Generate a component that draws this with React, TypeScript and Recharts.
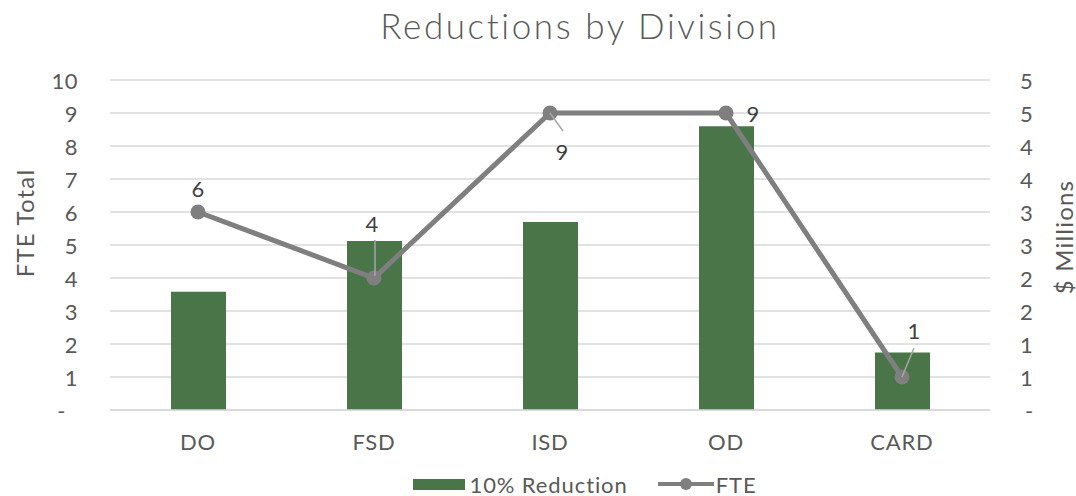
import React from 'react';
import { ComposedChart, Bar, Line, XAxis, YAxis, CartesianGrid, Legend } from 'recharts';

const divisions = ['DO', 'FSD', 'ISD', 'OD', 'CARD'];
const reductionMillions = [1.79, 2.56, 2.85, 4.3, 0.87];
const fteTotals = [6, 4, 9, 9, 1];
const fteTicks = [0, 1, 2, 3, 4, 5, 6, 7, 8, 9, 10];
const millionTicks = [0, 0.5, 1, 1.5, 2, 2.5, 3, 3.5, 4, 4.5, 5];

const BAR_COLOR = '#4a7548';
const LINE_COLOR = '#7f7f7f';
const TEXT_COLOR = '#595959';
const LABEL_COLOR = '#404040';
const GRID_COLOR = '#d9d9d9';
const FONT = 'Lato, "Noto Sans", sans-serif';

// where each FTE data label sits relative to its point (Excel had them dragged around)
const labelPlacement: Record<string, { dx: number; dy: number; leader?: [number, number, number, number] }> = {
    DO: { dx: 0, dy: -24 },
    FSD: { dx: -2, dy: -55, leader: [1, -38, 1, -2] },
    ISD: { dx: 12, dy: 38, leader: [0, 0, 13, 18] },
    OD: { dx: 27, dy: 0 },
    CARD: { dx: 12, dy: -47, leader: [0, 0, 12, -29] },
};

const chartData = divisions.map((division, i) => ({
    division,
    reduction: reductionMillions[i],
    fte: fteTotals[i],
}));

// accounting-style labels: zero shows as a dash, values rounded
const formatTick = (v: number) => (v === 0 ? '-' : String(Math.round(v)));

const LeftTick = (props: any) => {
    const { x, y, payload } = props;
    const isZero = payload.value === 0;
    return (
        <text x={x - 30 - (isZero ? 12 : 0)} y={y} textAnchor="end" dominantBaseline="central"
            fill={TEXT_COLOR} fontSize={22} fontFamily={FONT} letterSpacing={0.5}>
            {formatTick(payload.value)}
        </text>
    );
};

const RightTick = (props: any) => {
    const { x, y, payload } = props;
    const isZero = payload.value === 0;
    return (
        <text x={x + 28 + (isZero ? 5 : 0)} y={y} textAnchor="start" dominantBaseline="central"
            fill={TEXT_COLOR} fontSize={22} fontFamily={FONT}>
            {formatTick(payload.value)}
        </text>
    );
};

const AxisTitle = (props: any) => {
    const { viewBox, value, side } = props;
    const cx = side === 'left' ? viewBox.x + 24 : viewBox.x + viewBox.width - 13;
    const cy = viewBox.y + viewBox.height / 2 + (side === 'left' ? -22 : -8);
    return (
        <text x={cx} y={cy} transform={`rotate(-90 ${cx} ${cy})`} textAnchor="middle"
            dominantBaseline="central" fill={TEXT_COLOR} fontSize={24} fontFamily={FONT} letterSpacing={1.2}>
            {value}
        </text>
    );
};

const FteLabel = (props: any) => {
    const { x, y, value, index } = props;
    const place = labelPlacement[divisions[index]];
    return (
        <g>
            {place.leader && (
                <line x1={x + place.leader[0]} y1={y + place.leader[1]} x2={x + place.leader[2]} y2={y + place.leader[3]}
                    stroke="#a6a6a6" strokeWidth={1.5} />
            )}
            <text x={x + place.dx} y={y + place.dy} textAnchor="middle" dominantBaseline="central"
                fill={LABEL_COLOR} fontSize={22} fontFamily={FONT}>
                {value}
            </text>
        </g>
    );
};

const ChartLegend = () => (
    <div style={{ display: 'flex', justifyContent: 'center', alignItems: 'center', fontFamily: FONT, fontSize: 22, letterSpacing: 0.9, color: TEXT_COLOR, height: 24, paddingLeft: 94 }}>
        <span style={{ display: 'inline-block', width: 52, height: 11, background: BAR_COLOR, marginRight: 4 }} />
        <span style={{ marginRight: 30 }}>10% Reduction</span>
        <svg width={56} height={16} style={{ marginRight: 2 }}>
            <line x1={0} y1={8} x2={56} y2={8} stroke={LINE_COLOR} strokeWidth={4} />
            <circle cx={28} cy={8} r={6} fill={LINE_COLOR} />
        </svg>
        <span>FTE</span>
    </div>
);

export default function App() {
    return (
        <div style={{ position: 'absolute', left: 0, top: 0, width: 1076, height: 496, background: '#fff', overflow: 'hidden' }}>
            <div style={{ position: 'absolute', top: 4, left: 0, width: 1160, textAlign: 'center', fontFamily: FONT, fontSize: 35, fontWeight: 300, letterSpacing: 2.6, color: TEXT_COLOR }}>
                Reductions by Division
            </div>
            <ComposedChart width={1076} height={496} data={chartData} margin={{ top: 80, right: 0, bottom: 0, left: 0 }}>
                <CartesianGrid yAxisId="fte" vertical={false} stroke={GRID_COLOR} strokeWidth={1.5} />
                <XAxis dataKey="division" axisLine={{ stroke: GRID_COLOR, strokeWidth: 1.5 }} tickLine={false}
                    height={62} tickMargin={18} tick={{ fill: TEXT_COLOR, fontSize: 22, fontFamily: FONT, letterSpacing: 0.8 }} />
                <YAxis yAxisId="fte" orientation="left" width={110} domain={[0, 10]} ticks={fteTicks}
                    axisLine={false} tickLine={false} tickSize={0} tick={<LeftTick />}
                    label={<AxisTitle value="FTE Total" side="left" />} />
                <YAxis yAxisId="money" orientation="right" width={86} domain={[0, 5]} ticks={millionTicks}
                    axisLine={false} tickLine={false} tickSize={0} tick={<RightTick />}
                    label={<AxisTitle value="$ Millions" side="right" />} />
                <Legend verticalAlign="bottom" height={24} content={<ChartLegend />} />
                <Bar yAxisId="money" dataKey="reduction" name="10% Reduction" fill={BAR_COLOR} barSize={55} isAnimationActive={false} />
                <Line yAxisId="fte" dataKey="fte" name="FTE" stroke={LINE_COLOR} strokeWidth={5}
                    dot={{ r: 7.5, fill: LINE_COLOR, stroke: LINE_COLOR, strokeWidth: 0 }} activeDot={false}
                    label={<FteLabel />} isAnimationActive={false} />
            </ComposedChart>
        </div>
    );
}
